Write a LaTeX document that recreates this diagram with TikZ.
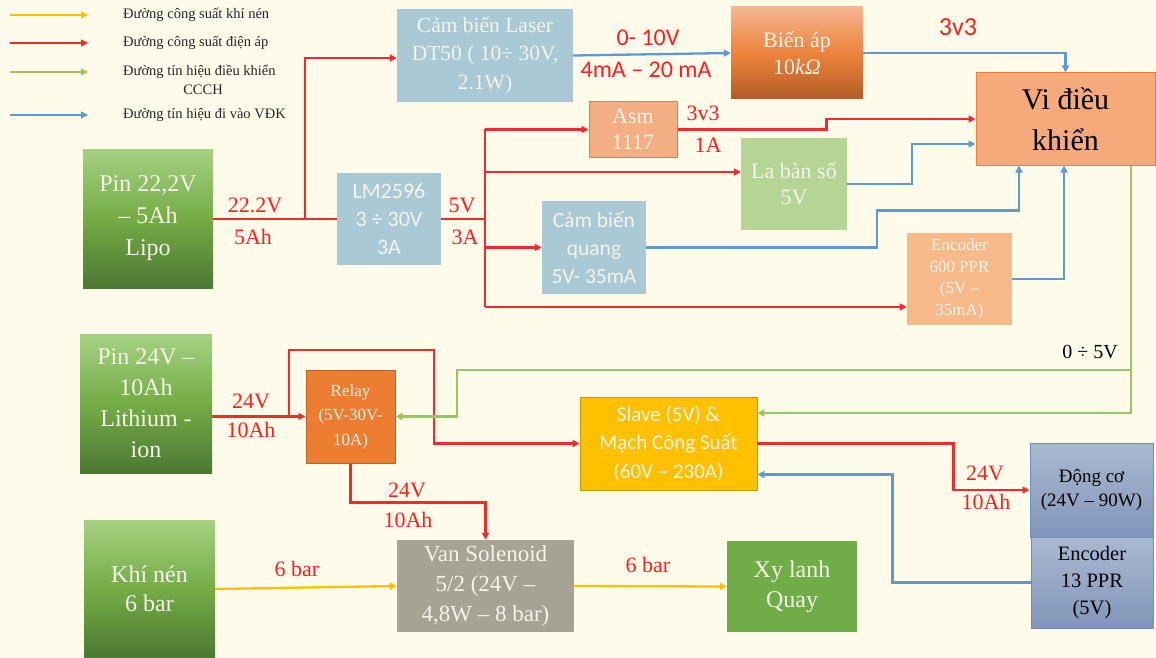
\documentclass[tikz,border=0pt]{standalone}
\usepackage{fontspec}
\setmainfont{Liberation Serif}
\newfontfamily\calibri{Carlito}
\usetikzlibrary{arrows.meta, positioning}
\definecolor{paper}{HTML}{FFFBEA}
\definecolor{pline}{HTML}{F22A2A}
\definecolor{plabel}{HTML}{FF1E1E}
\definecolor{sline}{HTML}{5B9BD5}
\definecolor{cline}{HTML}{96C85A}
\definecolor{aline}{HTML}{FFC000}
\definecolor{boxtext}{HTML}{F4F4EA}
\definecolor{sensor}{HTML}{A9C9D5}
\definecolor{grntop}{HTML}{A6D183}
\definecolor{grnmid}{HTML}{74AC45}
\definecolor{grnbot}{HTML}{4C7832}
\definecolor{salmon}{HTML}{F4AE84}
\definecolor{orangeedge}{HTML}{ED7D31}
\definecolor{mottop}{HTML}{A9B9D1}
\definecolor{motbot}{HTML}{8396BA}
\definecolor{motedge}{HTML}{6C8CBF}

\begin{document}
\begin{tikzpicture}[x=1pt, y=-1pt,
    every node/.style = {font=\rmfamily\fontsize{22}{28}\selectfont},
    box/.style = {rectangle, inner sep=0pt, align=center, text=boxtext},
    greenbox/.style = {box, top color=grntop, bottom color=grnbot, middle color=grnmid},
    motorbox/.style = {box, top color=mottop, bottom color=motbot, draw=motedge, line width=1pt, text=black},
    lbl/.style = {text=plabel, inner sep=1pt},
    legend/.style = {anchor=west, inner sep=0pt, text=black!85, font=\rmfamily\fontsize{14.5}{18}\selectfont},
    tip/.style = {-{Stealth[length=7pt, width=7pt, inset=0pt]}},
    redline/.style = {line width=2.3pt, color=pline},
    redarrow/.style = {redline, tip},
    bluearrow/.style = {line width=2.3pt, color=sline, tip},
    greenarrow/.style = {line width=2.3pt, color=cline, tip},
    airarrow/.style = {line width=2.3pt, color=aline, tip}
  ]
    \fill[paper] (0,0) rectangle (1156,658);
    \useasboundingbox (0,0) rectangle (1156,658);

    % Legend
    \node[legend] (legair) at (123,15) {Đường công suất khí nén};
    \node[legend] (legpow) at (123,43) {Đường công suất điện áp};
    \node[legend] (legctl) at (123,72) {Đường tín hiệu điều khiển};
    \node[legend, anchor=center] (legccch) at (203,90) {CCCH};
    \node[legend] (legsig) at (123,115) {Đường tín hiệu đi vào VĐK};
    \draw[airarrow, line width=1.5pt] ([xshift=-113pt]legair.west) -- ([xshift=-35pt]legair.west);
    \draw[redarrow, line width=1.5pt] ([xshift=-113pt]legpow.west) -- ([xshift=-35pt]legpow.west);
    \draw[greenarrow, line width=1.5pt] ([xshift=-113pt]legctl.west) -- ([xshift=-35pt]legctl.west);
    \draw[bluearrow, line width=1.5pt] ([xshift=-113pt]legsig.west) -- ([xshift=-35pt]legsig.west);

    % Sources
    \node[greenbox, minimum width=130pt, minimum height=139pt, font=\rmfamily\fontsize{24}{32}\selectfont] (pin22) at (148,218.5) {Pin 22,2V\\– 5Ah\\Lipo};
    \node[greenbox, minimum width=132pt, minimum height=139pt, font=\rmfamily\fontsize{24}{31}\selectfont] (pin24) at (146,403.5) {Pin 24V –\\10Ah\\Lithium -\\ion};
    \node[greenbox, minimum width=131pt, minimum height=138pt, font=\rmfamily\fontsize{24}{29}\selectfont] (khinen) at (149.5,589) {Khí nén\\6 bar};

    % Sensors and regulators
    \node[box, fill=sensor, minimum width=176pt, minimum height=93pt, font=\rmfamily\fontsize{21.5}{28.5}\selectfont] (laser) at (485,55.5) {Cảm biến Laser\\DT50 ( 10÷ 30V,\\2.1W)};
    \node[box, top color=salmon!90!white, bottom color=black!25!orangeedge, middle color=orangeedge!95!white, minimum width=132pt, minimum height=92pt, font=\rmfamily\fontsize{22}{27}\selectfont] (bienap) at (797,53) {Biến áp\\10\textit{kΩ}};
    \node[box, fill=sensor, minimum width=104pt, minimum height=92pt, font=\calibri\fontsize{22}{28}\selectfont] (lm) at (389,219) {LM2596\\3 ÷ 30V\\3A};
    \node[box, fill=salmon, draw=orangeedge, line width=1pt, minimum width=88pt, minimum height=55pt, font=\rmfamily\fontsize{22}{26}\selectfont] (asm) at (633,129.5) {Asm\\1117};
    \node[box, fill={rgb,255:red,181;green,213;blue,149}, minimum width=106pt, minimum height=92pt, font=\rmfamily\fontsize{22}{26}\selectfont] (laban) at (794,184) {La bàn số\\5V};
    \node[box, fill=sensor, minimum width=104pt, minimum height=93pt, font=\calibri\fontsize{21.5}{28}\selectfont] (quang) at (594,247.5) {Cảm biến\\quang\\5V- 35mA};
    \node[box, fill={rgb,255:red,246;green,185;blue,138}, minimum width=105pt, minimum height=92pt, font=\rmfamily\fontsize{17}{21.5}\selectfont] (enc600) at (959.5,279) {Encoder\\600 PPR\\(5V –\\35mA)};

    % Controller
    \node[box, fill={rgb,255:red,245;green,170;blue,124}, draw=orangeedge, line width=1pt, text=black, minimum width=179pt, minimum height=92pt, font=\rmfamily\fontsize{30}{41}\selectfont] (vdk) at (1065.5,119) {Vi điều\\khiển};

    % Drive side
    \node[box, fill=orangeedge, draw=orangeedge!80!black, line width=1pt, minimum width=89pt, minimum height=93pt, font=\rmfamily\fontsize{17}{24.5}\selectfont] (relay) at (350.5,416.5) {Relay\\(5V-30V-\\10A)};
    \node[box, fill=aline, draw=aline!80!black, line width=0.8pt, minimum width=177pt, minimum height=93pt, font=\calibri\fontsize{21}{28.5}\selectfont] (slave) at (668.5,443.5) {Slave (5V) \&\\Mạch Công Suất\\(60V – 230A)};
    \node[motorbox, minimum width=123pt, minimum height=94pt, font=\rmfamily\fontsize{19}{24}\selectfont] (dongco) at (1091.5,490) {Động cơ\\(24V – 90W)};
    \node[motorbox, minimum width=122pt, minimum height=91pt, font=\rmfamily\fontsize{20.5}{27}\selectfont] (enc13) at (1092,582.5) {Encoder\\13 PPR\\(5V)};

    % Pneumatic side
    \node[box, fill={rgb,255:red,166;green,162;blue,148}, minimum width=177pt, minimum height=92pt, font=\rmfamily\fontsize{23}{30}\selectfont] (van) at (485.5,586) {Van Solenoid\\5/2 (24V –\\4,8W – 8 bar)};
    \node[box, fill={rgb,255:red,112;green,173;blue,71}, minimum width=130pt, minimum height=91pt, font=\rmfamily\fontsize{24}{30}\selectfont] (xylanh) at (792,586.5) {Xy lanh\\Quay};

    % Power lines
    \coordinate (j1) at (305,219);
    \coordinate (j2) at (485,219);
    \coordinate (j3) at (289,416.5);
    \coordinate (r1) at (434,350);
    \coordinate (e6in) at ([yshift=-28pt]enc600.west);
    \coordinate (lbin) at ([yshift=12pt]laban.west);
    \coordinate (lzin) at ([yshift=-2.5pt]laser.west);
    \draw[redline] (pin22.east |- lm.west) -- (lm.west);
    \draw[redarrow] (j1) |- (lzin);
    \draw[redline] (lm.east) -- (j2);
    \draw[redline] (j2 |- asm.west) -- (j2 |- e6in);
    \draw[redarrow] (j2 |- asm.west) -- (asm.west);
    \draw[redarrow] (j2 |- lbin) -- (lbin);
    \draw[redarrow] (j2 |- quang.west) -- (quang.west);
    \draw[redarrow] (j2 |- e6in) -- (e6in);
    \draw[redarrow] (asm.east) -- ++(149,0) |- (vdk.west);
    \draw[redarrow] (pin24.east |- relay.west) -- (relay.west);
    \draw[redarrow] (j3) |- (r1) |- (slave.west);
    \draw[redarrow] (relay.south) -- ++(0,39) -| (van.north);
    \draw[redarrow] (slave.east) -- ++(196,0) |- (dongco.west);

    % Signal lines
    \draw[bluearrow] (laser.east) -- (bienap.west);
    \draw[bluearrow] (bienap.east) -| (vdk.north);
    \draw[bluearrow] (laban.east) -- ++(65,0) |- ([yshift=-25pt]vdk.west);
    \draw[bluearrow] (quang.east) -- ++(231,0) -- ++(0,-37) -| ([xshift=-46.5pt]vdk.south);
    \draw[bluearrow] (enc600.east) -| ([xshift=-1.5pt]vdk.south);
    \draw[bluearrow] (enc13.west) -- ++(-138,0) |- ([yshift=-31pt]slave.east);

    % Control lines
    \coordinate (g0) at ([xshift=65.5pt]vdk.south);
    \coordinate (gsplit) at (1131,370);
    \draw[greenarrow] (g0) |- ([yshift=30.5pt]slave.east);
    \draw[greenarrow] (gsplit) -- ++(-674,0) |- (relay.east);

    % Air lines
    \draw[airarrow] (khinen.east) -- (van.west);
    \draw[airarrow] (van.east) -- (xylanh.west);

    % Labels
    \node[lbl] (v222) at (255,205) {22.2V};
    \node[lbl] (a5) at (253,237) {5Ah};
    \node[lbl] (v5) at (462,205) {5V};
    \node[lbl] (a3) at (465,237) {3A};
    \node[lbl] (v33a) at (703,113) {3v3};
    \node[lbl] (a1) at (708,145) {1A};
    \node[lbl, font=\calibri\fontsize{26}{26}\selectfont] (v33b) at (958,27) {3v3};
    \node[lbl, font=\calibri\fontsize{24}{24}\selectfont] (v010) at (648,38) {0- 10V};
    \node[lbl, font=\calibri\fontsize{24}{24}\selectfont] (ma420) at (646,70) {4mA – 20 mA};
    \node[lbl] (v24a) at (251,401) {24V};
    \node[lbl] (ah10a) at (251,430) {10Ah};
    \node[lbl] (v24b) at (407,490) {24V};
    \node[lbl] (ah10b) at (408,520) {10Ah};
    \node[lbl] (v24c) at (985,473) {24V};
    \node[lbl] (ah10c) at (986,502) {10Ah};
    \node[lbl] (bar6a) at (297,569) {6 bar};
    \node[lbl] (bar6b) at (648,565) {6 bar};
    \node[text=black, font=\rmfamily\fontsize{20}{20}\selectfont] (v05) at (1090,352) {0 ÷ 5V};

  \end{tikzpicture}
\end{document}
